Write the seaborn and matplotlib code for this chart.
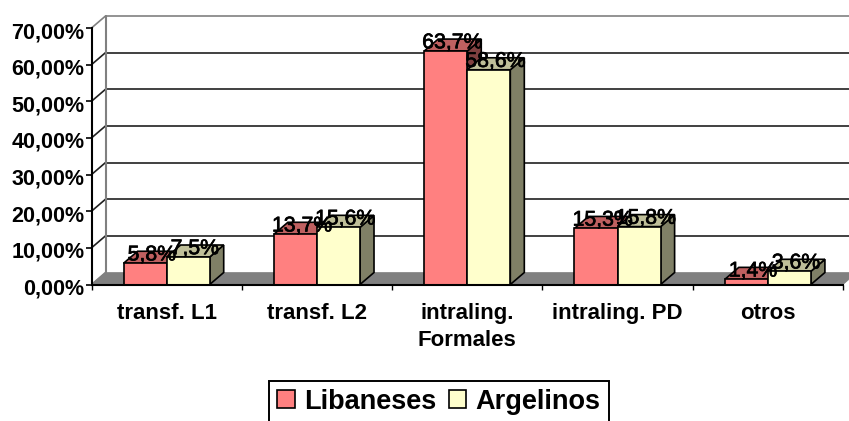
import pandas as pd
import matplotlib
matplotlib.use("Agg")
import matplotlib.pyplot as plt
import matplotlib.patheffects as pe
import matplotlib.transforms as mtrans
import seaborn as sns
from matplotlib.patches import Polygon

categories = ["transf. L1", "transf. L2", "intraling.\nFormales", "intraling. PD", "otros"]
libaneses = [5.8, 13.7, 63.7, 15.3, 1.4]
argelinos = [7.5, 15.6, 58.6, 15.8, 3.6]
libaneses_labels = ["5,8%", "13,7%", "63,7%", "15,3%", "1,4%"]
argelinos_labels = ["7,5%", "15,6%", "58,6%", "15,8%", "3,6%"]
y_ticks = [0, 10, 20, 30, 40, 50, 60, 70]
y_tick_labels = ["0,00%", "10,00%", "20,00%", "30,00%", "40,00%", "50,00%", "60,00%", "70,00%"]

W, H = 849, 421
sns.set_style("white")
plt.rcParams["font.family"] = ["Liberation Sans", "DejaVu Sans"]
plt.rcParams["text.color"] = "black"
plt.rcParams["xtick.labelcolor"] = "black"
plt.rcParams["ytick.labelcolor"] = "black"

df = pd.DataFrame({
    "cat": categories * 2,
    "grupo": ["Libaneses"] * 5 + ["Argelinos"] * 5,
    "valor": libaneses + argelinos,
})

fig = plt.figure(figsize=(W / 100, H / 100), dpi=100)
ax = fig.add_axes([91.5 / W, 1 - 284.5 / H, 751.5 / W, 256.5 / H])
ax.patch.set_alpha(0)

sns.barplot(data=df, x="cat", y="valor", hue="grupo", ax=ax, width=0.573, gap=0, saturation=1,
            palette={"Libaneses": "#FF8080", "Argelinos": "#FFFFCC"},
            edgecolor="black", linewidth=1.2, zorder=3, legend=False)
ax.set_xlim(-0.5, 4.5)
ax.set_ylim(0, 70)
ax.set_xlabel("")
ax.set_ylabel("")

# pseudo 3D depth, 14px right and 12px up
dx = 14 / (751.5 / 5)
dy = 12 / (256.5 / 70)

# floor and back wall
ax.add_patch(Polygon([(-0.5, 0), (4.5, 0), (4.5 + dx, dy), (-0.5 + dx, dy)], closed=True,
                     facecolor="#808080", edgecolor="#808080", lw=0.5, clip_on=False, zorder=1))
for t in y_ticks[1:]:
    c = "#808080" if t == 70 else "#202020"
    ax.plot([-0.5 + dx, 4.5 + dx], [t + dy, t + dy], color=c, lw=1.2, clip_on=False, zorder=1.5)
    ax.plot([-0.5, -0.5 + dx], [t, t + dy], color=c, lw=1.2, clip_on=False, zorder=1.5)
ax.plot([-0.5 + dx, -0.5 + dx], [dy, 70 + dy], color="#808080", lw=1.5, clip_on=False, zorder=1.6)
ax.plot([-0.5, -0.5 + dx], [0, dy], color="#808080", lw=1.2, clip_on=False, zorder=1.6)

# bar tops and sides, taken from the seaborn bars
shades = [("#BF6060", "#804040"), ("#BFBF99", "#808066")]
for i, cont in enumerate(ax.containers):
    top_c, side_c = shades[i]
    for bar in cont:
        x0, x1 = bar.get_x(), bar.get_x() + bar.get_width()
        h = bar.get_height()
        ax.add_patch(Polygon([(x1, 0), (x1 + dx, dy), (x1 + dx, h + dy), (x1, h)], closed=True,
                             facecolor=side_c, edgecolor="black", lw=1.2, clip_on=False, zorder=2.5 + i * 0.2))
        ax.add_patch(Polygon([(x0, h), (x0 + dx, h + dy), (x1 + dx, h + dy), (x1, h)], closed=True,
                             facecolor=top_c, edgecolor="black", lw=1.2, clip_on=False, zorder=2.5 + i * 0.2))

# value labels
for cont, labels in zip(ax.containers, [libaneses_labels, argelinos_labels]):
    for bar, lab in zip(cont, labels):
        ax.annotate(lab, (bar.get_x() + bar.get_width() / 2, bar.get_height()),
                    xytext=(4.8, 6), textcoords="offset points", ha="center", va="center",
                    fontsize=15.3, color="black", zorder=5, annotation_clip=False,
                    path_effects=[pe.withStroke(linewidth=0.5, foreground="black")])

ax.set_yticks(y_ticks)
ax.set_yticklabels(y_tick_labels, fontsize=15.5, fontweight="bold")
ax.set_xticks(range(5))
ax.set_xticklabels(categories, fontsize=16, fontweight="bold", linespacing=1.4)
ax.set_xticks([k - 0.5 for k in range(6)], minor=True)
ax.tick_params(axis="x", which="major", length=0, pad=13)
ax.tick_params(axis="x", which="minor", length=3.5, width=1, color="black", bottom=True)
ax.tick_params(axis="y", length=4, width=1.2, color="black", left=True, pad=1)

# y labels sit a little below their ticks in the original
shift = mtrans.ScaledTranslation(0, -2 / 100, fig.dpi_scale_trans)
for lab in ax.get_yticklabels():
    lab.set_transform(lab.get_transform() + shift)

sns.despine(ax=ax, top=True, right=True)
for s in ["left", "bottom"]:
    ax.spines[s].set_color("black")
    ax.spines[s].set_linewidth(1.5)
    ax.spines[s].set_zorder(4)

handles = [plt.Rectangle((0, 0), 1, 1, facecolor=c, edgecolor="black", lw=1.2) for c in ["#FF8080", "#FFFFCC"]]
leg = ax.legend(handles, ["Libaneses", "Argelinos"], ncol=2, loc="lower left",
                bbox_to_anchor=(269 / W, -2 / H), bbox_transform=fig.transFigure,
                frameon=True, fancybox=False, edgecolor="black", framealpha=1,
                prop={"weight": "bold", "size": 19.5}, handlelength=0.65, handleheight=0.65,
                handletextpad=0.35, columnspacing=0.45, borderpad=0.3, borderaxespad=0)
leg.get_frame().set_linewidth(1.4)

fig.savefig("out.png", dpi=100, facecolor="white")
